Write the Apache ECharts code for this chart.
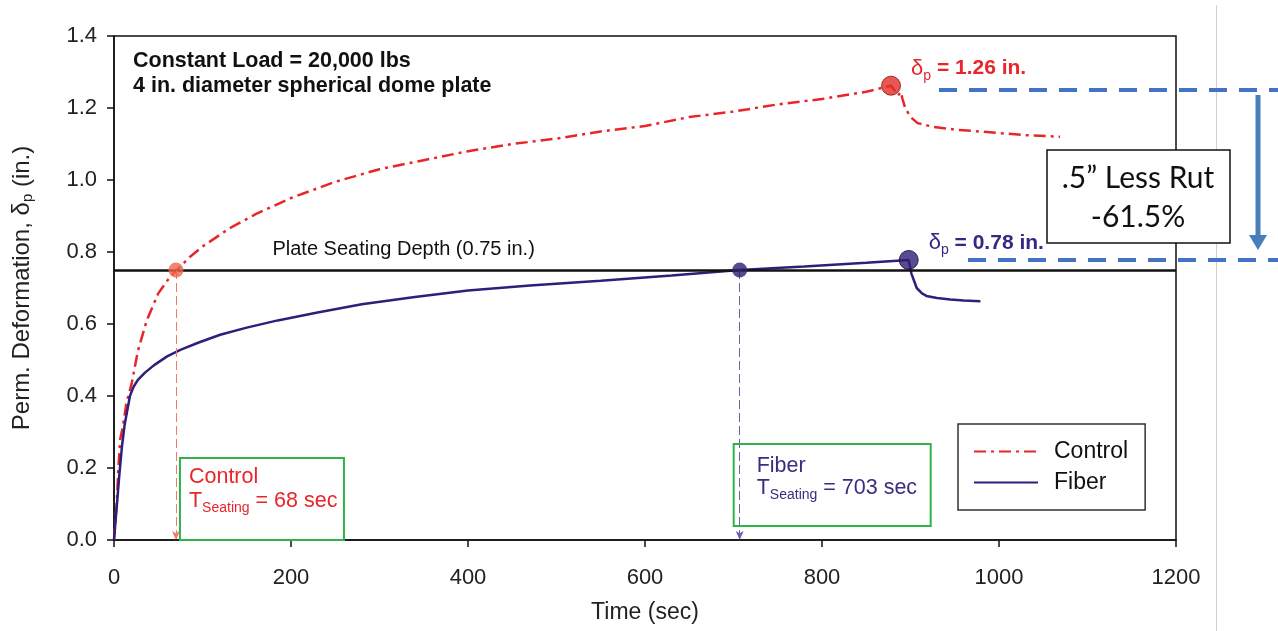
<!DOCTYPE html>
<html><head><meta charset="utf-8">
<script src="https://cdn.jsdelivr.net/npm/echarts@6/dist/echarts.min.js"></script>
<style>html,body{margin:0;padding:0;background:#fff}#c{width:1278px;height:631px}</style>
</head><body><div id="c"></div>
<script>
// ---- data ----
const xTicks = [0, 200, 400, 600, 800, 1000, 1200];
const yTicks = [0.0, 0.2, 0.4, 0.6, 0.8, 1.0, 1.2, 1.4];
const seriesNames = ['Control', 'Fiber'];
const controlT = [0, 3, 5, 7, 10, 14, 20, 27, 37, 50, 63, 71, 86, 100, 130, 160, 200, 250, 300, 350, 400, 450, 500, 550, 600, 650, 700, 750, 800, 850, 878, 886, 889, 891, 894, 900, 908, 925, 950, 982, 1027, 1069];
const controlD = [0, 0.10, 0.20, 0.28, 0.315, 0.38, 0.435, 0.525, 0.61, 0.685, 0.73, 0.75, 0.787, 0.815, 0.865, 0.905, 0.95, 0.995, 1.03, 1.055, 1.08, 1.10, 1.115, 1.135, 1.15, 1.175, 1.19, 1.21, 1.225, 1.245, 1.262, 1.235, 1.245, 1.225, 1.20, 1.175, 1.158, 1.148, 1.14, 1.134, 1.125, 1.12];
const fiberT = [0, 3, 6, 9, 12, 15, 18, 22, 27, 35, 45, 60, 75, 95, 120, 150, 185, 230, 280, 340, 400, 470, 550, 630, 707, 780, 850, 898, 901, 904, 907, 913, 918, 930, 945, 960, 979];
const fiberD = [0, 0.09, 0.18, 0.26, 0.32, 0.36, 0.40, 0.425, 0.445, 0.465, 0.485, 0.51, 0.528, 0.548, 0.57, 0.59, 0.61, 0.632, 0.655, 0.675, 0.693, 0.707, 0.72, 0.735, 0.75, 0.76, 0.77, 0.778, 0.74, 0.72, 0.70, 0.685, 0.678, 0.672, 0.668, 0.665, 0.663];
const seatDepth = 0.75;
const seatT = [70, 707];           // marker positions on plot
const seatLabel = ['68', '703'];   // T_Seating labels
const peakT = [878, 898];
const peakD = [1.262, 0.778];
const peakLabel = ['1.26', '0.78'];
const rutLines = [1.25, 0.778];
const rutText = ['.5\u201D Less Rut', '-61.5%'];

// ---- styles ----
const FONT = '"Liberation Sans", Arial, sans-serif';
const RED = '#e8262a';
const PURPLE = '#2f1f7a';
const zip = (a, b) => a.map((v, i) => [v, b[i]]);

const chart = echarts.init(document.getElementById('c'), null, {renderer: 'canvas'});
const option = {
  animation: false,
  backgroundColor: '#fff',
  grid: {left: 114, right: 102, top: 36, bottom: 91, show: true, borderColor: '#111', borderWidth: 1.5, containLabel: false, outerBoundsMode: 'none'},
  xAxis: {
    type: 'value', min: xTicks[0], max: xTicks[xTicks.length - 1], interval: 200,
    name: 'Time (sec)', nameLocation: 'middle', nameGap: 61,
    nameTextStyle: {fontFamily: FONT, fontSize: 23, color: '#222'},
    axisLine: {show: true, onZero: false, lineStyle: {color: '#111', width: 1.5}},
    axisTick: {show: true, inside: false, length: 7, lineStyle: {color: '#111', width: 1.5}},
    axisLabel: {fontFamily: FONT, fontSize: 22, color: '#222', margin: 27, formatter: v => String(v)},
    splitLine: {show: false}
  },
  yAxis: {
    type: 'value', min: yTicks[0], max: yTicks[yTicks.length - 1], interval: 0.2,
    name: '{a|Perm. Deformation, \u03B4}{s|p}{a| (in.)}', nameLocation: 'middle', nameGap: 79, nameRotate: 90,
    nameTextStyle: {fontFamily: FONT, color: '#222', rich: {
      a: {fontFamily: FONT, fontSize: 24, color: '#222'},
      s: {fontFamily: FONT, fontSize: 15, color: '#222', padding: [11, 0, 0, 0]}
    }},
    axisLine: {show: true, onZero: false, lineStyle: {color: '#111', width: 1.5}},
    axisTick: {show: true, inside: false, length: 7, lineStyle: {color: '#111', width: 1.5}},
    axisLabel: {fontFamily: FONT, fontSize: 22, color: '#222', margin: 17, formatter: v => v.toFixed(1)},
    splitLine: {show: false}
  },
  legend: {
    data: seriesNames, orient: 'vertical', left: 958, top: 424,
    itemWidth: 64, itemHeight: 20, itemGap: 8, padding: [16, 17, 16, 15],
    borderColor: '#333', borderWidth: 1.5, backgroundColor: '#fff',
    itemStyle: {opacity: 0},
    textStyle: {fontFamily: FONT, fontSize: 23, color: '#111', padding: [0, 0, 0, 11]}
  },
  series: [
    {
      name: seriesNames[0], type: 'line', data: zip(controlT, controlD), symbol: 'none', z: 4,
      lineStyle: {color: RED, width: 2.5, type: [12, 5, 3, 5]}, itemStyle: {color: RED}
    },
    {
      name: seriesNames[1], type: 'line', data: zip(fiberT, fiberD), symbol: 'none', z: 4,
      lineStyle: {color: PURPLE, width: 2.5}, itemStyle: {color: PURPLE},
      markLine: {silent: true, symbol: 'none', animation: false, label: {show: false},
        lineStyle: {color: '#111', width: 2.5, type: 'solid'}, data: [{yAxis: seatDepth}]}
    },
    {
      name: 'seat', type: 'scatter', z: 6, symbolSize: 15,
      data: seatT.map((t, i) => ({value: [t, seatDepth], itemStyle: {color: i === 0 ? '#f0654c' : '#2f1d6e'}})),
      markLine: {silent: true, animation: false, symbol: ['none', 'arrow'], symbolSize: [6, 9], label: {show: false},
        data: seatT.map((t, i) => [
          {coord: [t, seatDepth], lineStyle: {color: i === 0 ? '#f07a68' : '#6a5fb0', width: 1, type: [9, 4]}},
          {coord: [t, 0]}
        ])}
    },
    {
      name: 'peak', type: 'scatter', z: 6, symbolSize: 19,
      data: peakT.map((t, i) => ({value: [t, peakD[i]], itemStyle: {color: i === 0 ? '#e42d27' : '#2f1e73', borderColor: i === 0 ? '#7a1512' : '#140b3a', borderWidth: 1}}))
    }
  ]
};
chart.setOption(option);

// ---- annotations ----
const P = (x, y) => chart.convertToPixel({gridIndex: 0}, [x, y]);
const g = [];
// header text
g.push({type: 'text', x: 133, y: 61, z: 10, style: {text: 'Constant Load = 20,000 lbs', font: 'bold 21.5px ' + FONT, fill: '#111', textVerticalAlign: 'middle'}});
g.push({type: 'text', x: 133, y: 86, z: 10, style: {text: '4 in. diameter spherical dome plate', font: 'bold 21.5px ' + FONT, fill: '#111', textVerticalAlign: 'middle'}});
// plate seating label
const ps = P(179, seatDepth);
g.push({type: 'text', x: ps[0], y: ps[1] - 21, z: 10, style: {text: 'Plate Seating Depth (0.75 in.)', font: '20px ' + FONT, fill: '#111', textVerticalAlign: 'middle'}});
// peak labels
peakT.forEach((t, i) => {
  const p = P(t, peakD[i]);
  const col = i === 0 ? RED : '#3a2585';
  g.push({type: 'text', x: p[0] + 20, y: p[1] - 17, z: 10, style: {
    text: '{d|\u03B4}{s|p}{b| = ' + peakLabel[i] + ' in.}', textVerticalAlign: 'middle',
    rich: {
      d: {fontFamily: FONT, fontSize: 22, fill: col, color: col},
      s: {fontFamily: FONT, fontSize: 14, fill: col, color: col, padding: [14, 0, 0, 0]},
      b: {fontFamily: FONT, fontSize: 21, fontWeight: 'bold', fill: col, color: col}
    }}});
});
// T seating boxes
const boxes = [
  {dx: 4, top: 458, w: 164, h: 82, tx: 9, l1: 19, l2: 43, name: 'Control', col: RED},
  {dx: -6, top: 444, w: 197, h: 82, tx: 23, l1: 22, l2: 44, name: 'Fiber', col: '#3d2b80'}
];
boxes.forEach((b, i) => {
  const p = P(seatT[i], 0);
  const x0 = p[0] + b.dx;
  g.push({type: 'rect', z: 8, shape: {x: x0, y: b.top, width: b.w, height: b.h}, style: {fill: 'none', stroke: '#2db34a', lineWidth: 2}});
  g.push({type: 'text', x: x0 + b.tx, y: b.top + b.l1, z: 10, style: {text: b.name, font: '21.5px ' + FONT, fill: b.col, textVerticalAlign: 'middle'}});
  g.push({type: 'text', x: x0 + b.tx, y: b.top + b.l2, z: 10, style: {
    text: '{t|T}{s|Seating}{t| = ' + seatLabel[i] + ' sec}', textVerticalAlign: 'middle',
    rich: {
      t: {fontFamily: FONT, fontSize: 21.5, fill: b.col, color: b.col},
      s: {fontFamily: FONT, fontSize: 14, fill: b.col, color: b.col, padding: [14, 0, 0, 0]}
    }}});
});
// rut difference annotation
const yTop = P(0, rutLines[0])[1];
const yBot = P(0, rutLines[1])[1];
g.push({type: 'line', z: 9, shape: {x1: 939, y1: yTop, x2: 1278, y2: yTop}, style: {stroke: '#4472c4', lineWidth: 4, lineDash: [18, 12]}});
g.push({type: 'line', z: 9, shape: {x1: 968, y1: yBot, x2: 1278, y2: yBot}, style: {stroke: '#4472c4', lineWidth: 4, lineDash: [18, 12]}});
g.push({type: 'line', z: 1, shape: {x1: 1216.5, y1: 5, x2: 1216.5, y2: 631}, style: {stroke: '#d0d0d0', lineWidth: 1}});
g.push({type: 'line', z: 9, shape: {x1: 1258, y1: yTop + 5, x2: 1258, y2: yBot - 24}, style: {stroke: '#4a7ebb', lineWidth: 5}});
g.push({type: 'polygon', z: 9, shape: {points: [[1249, yBot - 25], [1267, yBot - 25], [1258, yBot - 10]]}, style: {fill: '#4a7ebb'}});
g.push({type: 'rect', z: 9, shape: {x: 1047, y: 150, width: 183, height: 93}, style: {fill: '#fff', stroke: '#111', lineWidth: 1.5}});
g.push({type: 'text', x: 1138, y: 178, z: 10, style: {text: rutText[0], font: '30px Lato, "Open Sans", sans-serif', fill: '#111', textAlign: 'center', textVerticalAlign: 'middle'}});
g.push({type: 'text', x: 1138, y: 217, z: 10, style: {text: rutText[1], font: '30px Lato, "Open Sans", sans-serif', fill: '#111', textAlign: 'center', textVerticalAlign: 'middle'}});
chart.setOption({graphic: g});
</script></body></html>
